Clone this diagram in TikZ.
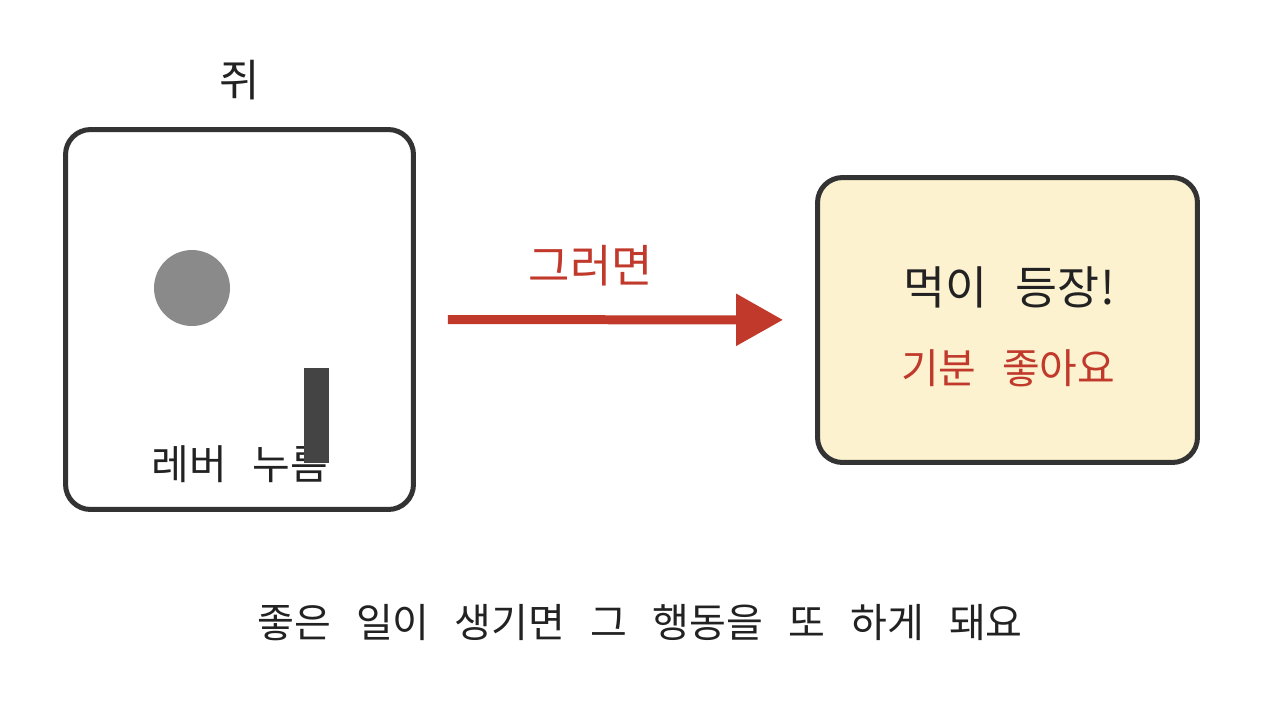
\documentclass[tikz,border=0pt]{standalone}
\usepackage{fontspec}
\setmainfont{Noto Sans CJK KR}[WordSpace=2.8]
\usetikzlibrary{positioning, arrows.meta}
\definecolor{boxline}{HTML}{333333}
\definecolor{goodred}{HTML}{C0392B}
\definecolor{cream}{HTML}{FDF2D0}
\definecolor{dotgray}{HTML}{8A8A8A}
\definecolor{levergray}{HTML}{444444}
\definecolor{inktext}{HTML}{222222}
\tikzset{
  x=0.02cm, y=-0.02cm,
  cage/.style={draw=boxline, line width=0.1cm, rounded corners=0.5cm},
  word/.style={text=inktext, inner sep=0pt, font=\fontsize{22.8}{27}\selectfont},
  redword/.style={word, text=goodred},
  thenarrow/.style={draw=goodred, line width=0.18cm,
    -{Triangle[length=0.94cm, width=1cm]},
    shorten <=0.64cm, shorten >=0.64cm},
}

\begin{document}
\begin{tikzpicture}
  \useasboundingbox (0,0) rectangle (1280,704);

  % boxes
  \node[cage, minimum width=6.96cm, minimum height=7.6cm] (rat) at (239.5,319.5) {};
  \node[cage, fill=cream, minimum width=7.6cm, minimum height=5.7cm] (food) at (1007.5,320) {};

  % rat side
  \node[word, font=\fontsize{25}{30}\selectfont] (ratname) at (240,80) {쥐};
  \node[circle, fill=dotgray, minimum size=1.52cm, inner sep=0pt] (dot) at (192,288) {};
  \node[word, font=\fontsize{23.3}{28}\selectfont] (press) at (240,464) {레버 누름};
  \node[fill=levergray, minimum width=0.5cm, minimum height=1.9cm, inner sep=0pt] (lever) at (316.5,415.5) {};

  % food side
  \node[word, font=\fontsize{26}{31}\selectfont] (meal) at (1009,287) {먹이 등장!};
  \node[redword, font=\fontsize{23.3}{28}\selectfont] (mood) at (1008,368) {기분 좋아요};

  % transition
  \draw[thenarrow] (rat) -- (food);
  \node[redword, font=\fontsize{25.6}{30}\selectfont] (then) at (591,266) {그러면};

  % caption
  \node[word] (rule) at (640,623) {좋은 일이 생기면 그 행동을 또 하게 돼요};
\end{tikzpicture}
\end{document}
